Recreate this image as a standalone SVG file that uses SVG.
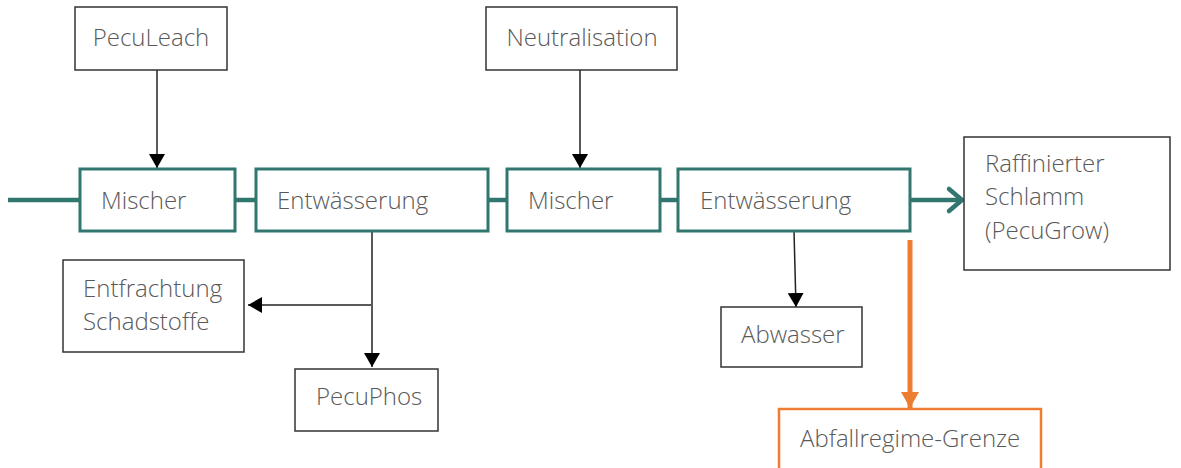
<svg xmlns="http://www.w3.org/2000/svg" width="1181" height="468" viewBox="0 0 1181 468">
<style>
.box{fill:#fff;stroke:#333;stroke-width:1.5}
.tbox{fill:#fff;stroke:#31776F;stroke-width:3}
.obox{fill:#fff;stroke:#ED7D31;stroke-width:2.5}
text{font-family:"Open Sans","Noto Sans",sans-serif;font-weight:300;font-size:24px;fill:#595959}
.conn{stroke:#222;stroke-width:1.5;fill:none}
.teal{stroke:#31776F;stroke-width:4.5;fill:none}
</style>
<defs>
<marker id="ah" markerUnits="userSpaceOnUse" markerWidth="16" markerHeight="16" refX="14" refY="8" orient="auto">
<path d="M0,0 L14,8 L0,16 Z" fill="#000"/>
</marker>
<marker id="oh" markerUnits="userSpaceOnUse" markerWidth="18" markerHeight="18" refX="16" refY="9" orient="auto">
<path d="M0,0 L16,9 L0,18 Z" fill="#ED7D31"/>
</marker>
</defs>
<g id="connectors">
<line class="teal" x1="8" y1="200" x2="80" y2="200"/>
<line class="teal" x1="235" y1="200" x2="256" y2="200"/>
<line class="teal" x1="488" y1="200" x2="507" y2="200"/>
<line class="teal" x1="660" y1="200" x2="678" y2="200"/>
<line class="teal" x1="910" y1="200" x2="962" y2="200"/>
<path class="teal" d="M949,189 L962,200 L949,211" stroke-linecap="round" stroke-linejoin="round"/>
<line class="conn" x1="157" y1="70" x2="157" y2="168" marker-end="url(#ah)"/>
<line class="conn" x1="580" y1="70" x2="580" y2="168" marker-end="url(#ah)"/>
<line class="conn" x1="372" y1="231" x2="372" y2="367" marker-end="url(#ah)"/>
<line class="conn" x1="371" y1="305" x2="248" y2="305" marker-end="url(#ah)"/>
<line class="conn" x1="794" y1="231" x2="796" y2="307" marker-end="url(#ah)"/>
<line x1="910" y1="240" x2="910" y2="408" stroke="#ED7D31" stroke-width="5" marker-end="url(#oh)"/>
</g>
<g id="peculeach"><rect class="box" x="75" y="7" width="152" height="63"/><text x="151" y="46" text-anchor="middle">PecuLeach</text></g>
<g id="neutralisation"><rect class="box" x="486" y="7" width="191" height="63"/><text x="582" y="46" text-anchor="middle">Neutralisation</text></g>
<g id="mischer1"><rect class="tbox" x="80" y="169" width="155" height="62"/><text x="101" y="209">Mischer</text></g>
<g id="entwaesserung1"><rect class="tbox" x="256" y="169" width="232" height="62"/><text x="277" y="209">Entwässerung</text></g>
<g id="mischer2"><rect class="tbox" x="507" y="169" width="153" height="62"/><text x="528" y="209">Mischer</text></g>
<g id="entwaesserung2"><rect class="tbox" x="678" y="169" width="232" height="62"/><text x="700" y="209">Entwässerung</text></g>
<g id="raffinierter"><rect class="box" x="964" y="137" width="206" height="133"/><text x="985" y="172">Raffinierter</text><text x="985" y="205">Schlamm</text><text x="985" y="239">(PecuGrow)</text></g>
<g id="entfrachtung"><rect class="box" x="63" y="260" width="181" height="92"/><text x="83" y="297">Entfrachtung</text><text x="83" y="330">Schadstoffe</text></g>
<g id="pecuphos"><rect class="box" x="295" y="369" width="143" height="62"/><text x="316" y="405">PecuPhos</text></g>
<g id="abwasser"><rect class="box" x="721" y="307" width="141" height="60"/><text x="741" y="343">Abwasser</text></g>
<g id="grenze"><rect class="obox" x="779" y="409" width="262" height="70"/><text x="800" y="447">Abfallregime-Grenze</text></g>
</svg>
